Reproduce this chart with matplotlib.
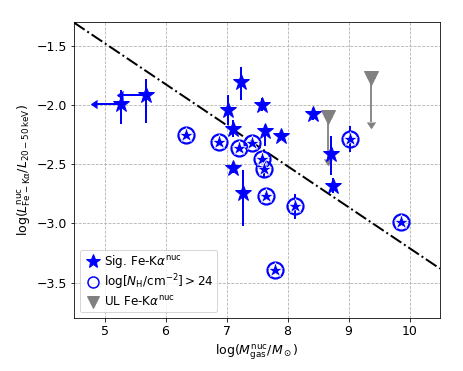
import numpy as np
import matplotlib
matplotlib.use('Agg')
import matplotlib.pyplot as plt
from matplotlib.lines import Line2D

# significant Fe-K alpha detections (plain stars)
sig_x = [5.27, 5.68, 7.24, 7.58, 7.02, 7.10, 7.63, 7.89, 8.42, 7.10, 7.27, 8.72, 8.74]
sig_y = [-1.99, -1.92, -1.81, -2.00, -2.04, -2.20, -2.22, -2.26, -2.075, -2.53, -2.74, -2.415, -2.68]
sig_err_lo = [0.17, 0.23, 0.15, 0.055, 0.13, 0.07, 0.13, 0.0, 0.05, 0.04, 0.28, 0.175, 0.06]
sig_err_hi = [0.12, 0.14, 0.13, 0.055, 0.12, 0.07, 0.05, 0.0, 0.05, 0.04, 0.19, 0.155, 0.06]

# the two gas-mass upper limits (arrow to the left)
xlim_idx = [0, 1]
xlim_len = [0.385, 0.37]

# Compton-thick sources (circled stars)
ct_x = [6.34, 6.88, 7.21, 7.42, 7.58, 7.61, 7.65, 8.13, 7.80, 9.02, 9.86]
ct_y = [-2.25, -2.31, -2.36, -2.32, -2.46, -2.54, -2.77, -2.85, -3.39, -2.29, -2.99]
ct_err_lo = [0.0, 0.0, 0.0, 0.0, 0.0, 0.07, 0.0, 0.11, 0.0, 0.11, 0.0]
ct_err_hi = [0.0, 0.0, 0.0, 0.0, 0.0, 0.04, 0.0, 0.10, 0.0, 0.11, 0.0]

# Fe-K alpha upper limits
ul_x = [8.66, 9.37]
ul_y = [-2.10, -1.77]
ul_len = [0.36, 0.37]

# relation line
line_slope = -0.346
line_icpt = 0.252

blue = '#0000ff'
grey = '#808080'
fs = 12.5

fig = plt.figure(figsize=(463 / 72, 371 / 72), dpi=72)
ax = fig.add_axes([74 / 463, 1 - 318.3 / 371, 366 / 463, 296.3 / 371])

xx = np.array([4.5, 10.5])
ax.plot(xx, line_slope * xx + line_icpt, color='k', ls='-.', lw=2, zorder=2)

# plain stars
ax.errorbar(sig_x, sig_y, yerr=[sig_err_lo, sig_err_hi], fmt='*', color=blue,
            ms=17, elinewidth=2, capsize=0, zorder=4)
# left arrows
ax.errorbar([sig_x[i] for i in xlim_idx], [sig_y[i] for i in xlim_idx],
            xerr=xlim_len, xuplims=True, fmt='none', ecolor=blue, color=blue,
            elinewidth=2, capsize=4, zorder=3)

# circled stars
ax.errorbar(ct_x, ct_y, yerr=[ct_err_lo, ct_err_hi], fmt='none', ecolor=blue,
            elinewidth=2, capsize=0, zorder=3)
ax.plot(ct_x, ct_y, 'o', ms=16, mfc='none', mec=blue, mew=2.2, zorder=4)
ax.plot(ct_x, ct_y, '*', ms=15.5, mfc=blue, mec='white', mew=0.7, zorder=5)

# upper limits
ax.errorbar(ul_x, ul_y, yerr=ul_len, uplims=True, fmt='none', ecolor=grey, color=grey,
            elinewidth=1.8, capsize=4, zorder=3)
ax.plot(ul_x, ul_y, 'v', ms=14, color=grey, zorder=4)

ax.set_xlim(4.5, 10.5)
ax.set_ylim(-3.8, -1.3)
ax.set_xticks([5, 6, 7, 8, 9, 10])
ax.set_yticks([-3.5, -3.0, -2.5, -2.0, -1.5])
ax.tick_params(labelsize=fs)
ax.grid(True, ls='--', color='#b0b0b0', lw=0.8)
ax.set_axisbelow(True)

ax.set_xlabel(r'$\log(M^{\rm nuc}_{\rm gas}/M_\odot)$', fontsize=fs)
ax.set_ylabel(r'$\log(L^{\rm nuc}_{\rm Fe-K\alpha}/L_{\rm 20-50\,keV})$', fontsize=fs)

handles = [
    Line2D([], [], marker='*', ls='none', color=blue, ms=15),
    Line2D([], [], marker='o', ls='none', mfc='none', mec=blue, mew=1.5, ms=11),
    Line2D([], [], marker='v', ls='none', color=grey, ms=12),
]
labels = [r'Sig. Fe-K$\alpha^{\rm nuc}$',
          r'$\log[N_{\rm H}/{\rm cm}^{-2}]>24$',
          r'UL Fe-K$\alpha^{\rm nuc}$']
ax.legend(handles, labels, loc='lower left', fontsize=12, handletextpad=0.1,
          borderpad=0.3, labelspacing=0.2, handlelength=1.6)

fig.savefig('out.png', dpi=72)
